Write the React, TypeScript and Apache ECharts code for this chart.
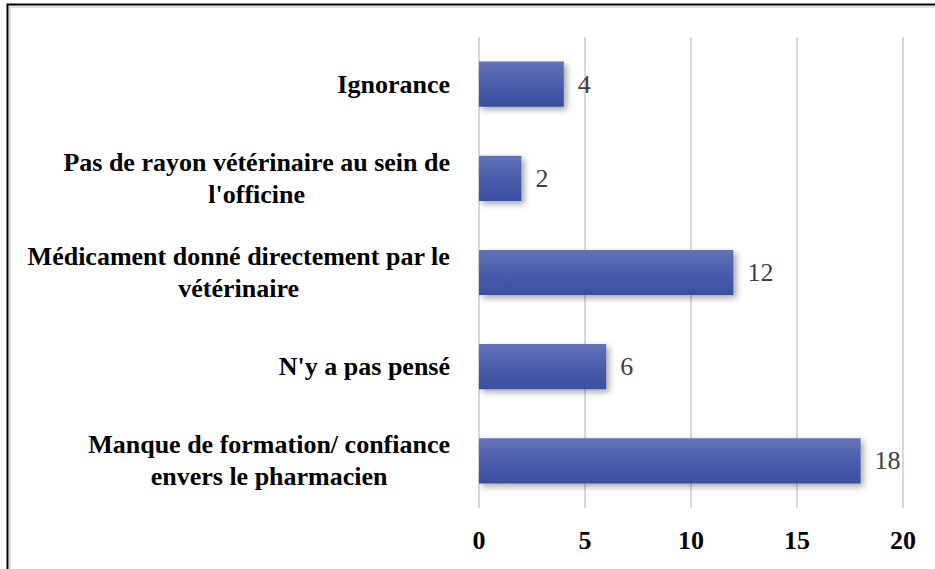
import React, { useEffect, useRef } from "react";
import * as echarts from "echarts";

const categories = [
  "Ignorance",
  "Pas de rayon vétérinaire au sein de\nl'officine",
  "Médicament donné directement par le\nvétérinaire",
  "N'y a pas pensé",
  "Manque de formation/ confiance\nenvers le pharmacien",
];
const values = [4, 2, 12, 6, 18];
const xTicks = [0, 5, 10, 15, 20];

const FONT = '"Liberation Serif", "Times New Roman", serif';

export default function App() {
  const ref = useRef<HTMLDivElement>(null);
  useEffect(() => {
    document.body.style.margin = "0";
    const chart = echarts.init(ref.current!, null, { renderer: "svg" });
    chart.setOption({
      animation: false,
      backgroundColor: "#ffffff",
      grid: { left: 479, right: 32, top: 37, bottom: 61, containLabel: false },
      xAxis: {
        type: "value",
        min: xTicks[0],
        max: xTicks[xTicks.length - 1],
        interval: 5,
        axisLine: { show: false },
        axisTick: { show: false },
        splitLine: { show: true, lineStyle: { color: "#d9d9d9", width: 2 } },
        axisLabel: {
          fontFamily: FONT,
          fontWeight: "bold",
          fontSize: 26,
          color: "#000",
          margin: 19,
        },
      },
      yAxis: {
        type: "category",
        inverse: true,
        data: categories,
        axisLine: { show: false },
        axisTick: { show: false },
        axisLabel: {
          margin: 29,
          align: "right",
          formatter: (v: string) =>
            v
              .split("\n")
              .map((l) => `{c|${l}}`)
              .join("\n"),
          rich: {
            c: {
              align: "center",
              fontFamily: FONT,
              fontWeight: "bold",
              fontSize: 26,
              lineHeight: 32,
              color: "#000",
            },
          },
        },
      },
      series: [
        {
          type: "bar",
          data: values,
          barCategoryGap: "52%",
          itemStyle: {
            color: new echarts.graphic.LinearGradient(0, 0, 0, 1, [
              { offset: 0, color: "#6373b9" },
              { offset: 0.5, color: "#4a5dab" },
              { offset: 1, color: "#3a4f9f" },
            ]),
            shadowBlur: 6,
            shadowOffsetX: 3,
            shadowOffsetY: 3,
            shadowColor: "rgba(0,0,0,0.35)",
          },
          label: {
            show: true,
            position: "right",
            distance: 14,
            fontFamily: FONT,
            fontSize: 26,
            color: "#404040",
          },
        },
      ],
      graphic: [
        {
          type: "rect",
          shape: { x: 10, y: 7, width: 1000, height: 1000 },
          style: { fill: "none", stroke: "#e0e0e0", lineWidth: 2 },
          silent: true,
        },
        {
          type: "rect",
          shape: { x: 7.5, y: 4.5, width: 1000, height: 1000 },
          style: { fill: "none", stroke: "#000", lineWidth: 2 },
          silent: true,
        },
      ],
    });
    return () => chart.dispose();
  }, []);
  return (
    <div
      ref={ref}
      style={{ position: "fixed", left: 0, top: 0, width: 935, height: 569 }}
    />
  );
}
